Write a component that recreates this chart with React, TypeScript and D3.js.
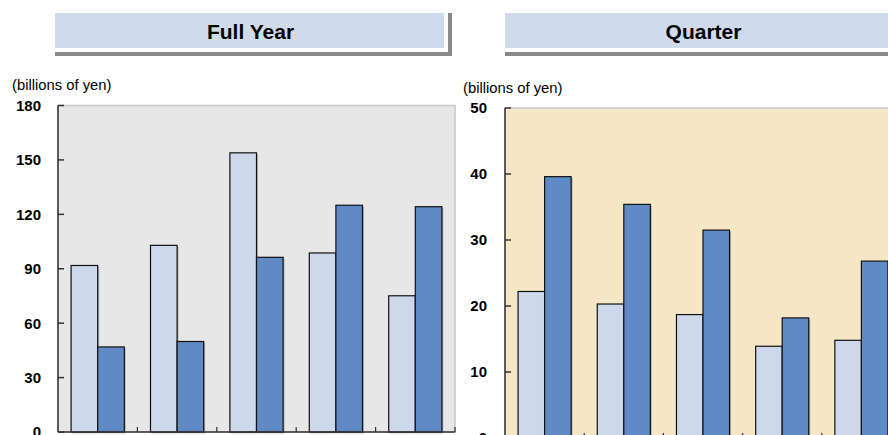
import React from "react";
import * as d3 from "d3";

const categories = ["FY1", "FY2", "FY3", "FY4", "FY5"];
const seriesNames = ["Previous", "Current"];
const fullYearPrev = [91.8, 102.9, 153.9, 98.7, 75.1];
const fullYearCurr = [46.9, 49.9, 96.3, 125.0, 124.2];
const quarterPrev = [22.2, 20.3, 18.7, 13.9, 14.8];
const quarterCurr = [39.6, 35.4, 31.5, 18.2, 26.8];
const fullYearTicks = [0, 30, 60, 90, 120, 150, 180];
const quarterTicks = [0, 10, 20, 30, 40, 50];

const LIGHT = "#cdd9ea";
const DARK = "#5f8ac5";
const FONT = "Arial, 'Liberation Sans', Helvetica, sans-serif";

type PanelProps = {
  title: string;
  titleBox: [number, number, number];
  x0: number;
  x1: number;
  yTop: number;
  yBottom: number;
  max: number;
  ticks: number[];
  prev: number[];
  curr: number[];
  bg: string;
  unitX: number;
  unitY: number;
  tickLabelX: number;
};

function Panel(p: PanelProps) {
  const xb = d3.scaleBand<string>().domain(categories).range([p.x0, p.x1]);
  const bw = xb.bandwidth();
  const xs = d3.scaleBand<string>().domain(seriesNames).range([bw * 0.165, bw * 0.835]);
  const y = d3.scaleLinear().domain([0, p.max]).range([p.yBottom, p.yTop]);
  const [tx0, tx1, tyTop] = p.titleBox;
  return (
    <g>
      {/* title box */}
      <rect x={tx1 + 4} y={tyTop} width={4} height={43} fill="#888" />
      <rect x={tx0} y={tyTop + 39} width={tx1 - tx0 + 8} height={4} fill="#888" />
      <rect x={tx0} y={tyTop} width={tx1 - tx0} height={35} fill="#cfdbeb" />
      <text x={(tx0 + tx1) / 2 + 1} y={tyTop + 26} textAnchor="middle" fontFamily={FONT} fontWeight="bold" fontSize={21} fill="#000">
        {p.title}
      </text>
      <text x={p.unitX} y={p.unitY} fontFamily={FONT} fontSize={14.8} fill="#000">(billions of yen)</text>
      {/* plot bg */}
      <rect x={p.x0} y={p.yTop} width={p.x1 - p.x0} height={p.yBottom - p.yTop} fill={p.bg} stroke="#c8c8c8" strokeWidth={1.5} />
      {/* bars */}
      {categories.map((c, i) => (
        <g key={c}>
          {[p.prev[i], p.curr[i]].map((v, j) => {
            const bx = (xb(c) as number) + (xs(seriesNames[j]) as number);
            const by = y(v);
            return (
              <g key={j}>
                <rect x={bx + 1.5} y={by + 1.5} width={xs.bandwidth()} height={p.yBottom - by} fill="#000" opacity={0.22} />
                <rect x={bx} y={by} width={xs.bandwidth()} height={p.yBottom - by} fill={j === 0 ? LIGHT : DARK} stroke="#111" strokeWidth={1.2} />
              </g>
            );
          })}
        </g>
      ))}
      {/* axes */}
      <line x1={p.x0} x2={p.x0} y1={p.yTop} y2={p.yBottom} stroke="#333" strokeWidth={1.5} />
      <line x1={p.x0} x2={p.x1} y1={p.yBottom} y2={p.yBottom} stroke="#333" strokeWidth={1.5} />
      {p.ticks.map((t) => (
        <g key={t}>
          <line x1={p.x0} x2={p.x0 + 6} y1={y(t)} y2={y(t)} stroke="#333" strokeWidth={1.5} />
          <text x={p.tickLabelX} y={y(t)} dy="0.36em" textAnchor="end" fontFamily={FONT} fontWeight="bold" fontSize={15} fill="#000">
            {t}
          </text>
        </g>
      ))}
      {categories.slice(1).map((c) => (
        <line key={c} x1={xb(c) as number} x2={xb(c) as number} y1={p.yBottom - 5} y2={p.yBottom} stroke="#333" strokeWidth={1.2} />
      ))}
      <line x1={p.x1} x2={p.x1} y1={p.yBottom - 5} y2={p.yBottom} stroke="#333" strokeWidth={1.2} />
    </g>
  );
}

export default function App() {
  return (
    <svg width={888} height={435} style={{ position: "absolute", left: 0, top: 0, background: "#fff" }} overflow="hidden">
      <Panel
        title="Full Year"
        titleBox={[55, 444, 13]}
        x0={58}
        x1={455}
        yTop={105.5}
        yBottom={432}
        max={180}
        ticks={fullYearTicks}
        prev={fullYearPrev}
        curr={fullYearCurr}
        bg="#e7e7e7"
        unitX={12}
        unitY={90}
        tickLabelX={41}
      />
      <Panel
        title="Quarter"
        titleBox={[505, 900, 13]}
        x0={505}
        x1={901}
        yTop={108}
        yBottom={438}
        max={50}
        ticks={quarterTicks}
        prev={quarterPrev}
        curr={quarterCurr}
        bg="#f5e7c5"
        unitX={463}
        unitY={93}
        tickLabelX={487}
      />
    </svg>
  );
}
